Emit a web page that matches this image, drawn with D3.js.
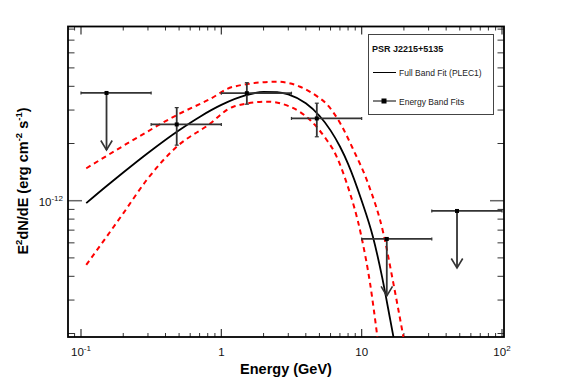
<!DOCTYPE html>
<html><head><meta charset="utf-8">
<script src="https://cdn.jsdelivr.net/npm/d3@7"></script>
<style>
html,body{margin:0;padding:0;background:#fff;}
svg{display:block;font-family:"Liberation Sans",Arial,sans-serif;}
</style></head>
<body><svg id="c" width="567" height="384"></svg>
<script>
// Energy band fits
const bandLo = [0.1, 0.316, 1, 3.16, 10, 31.6];
const bandHi = [0.316, 1, 3.16, 10, 31.6, 100];
const pointE = [0.152, 0.481, 1.52, 4.79, 15.1, 47.8];
const flux = [3.69e-12, 2.52e-12, 3.68e-12, 2.71e-12, 6.29e-13, 8.83e-13];
const fluxErrLo = [null, 1.96e-12, 3.22e-12, 2.17e-12, null, null];
const fluxErrHi = [null, 3.09e-12, 4.18e-12, 3.26e-12, null, null];
const isUL = [true, false, false, false, true, true];

// Full band fit (PLEC1)
const fitE = [0.109, 0.15, 0.2, 0.3, 0.5, 0.7, 1, 1.5, 2, 2.5, 3, 4, 5, 6, 7, 8, 10, 12, 14, 16, 17];
const fitF = [9.71e-13, 1.184e-12, 1.408e-12, 1.784e-12, 2.35e-12, 2.761e-12, 3.192e-12, 3.591e-12, 3.739e-12, 3.73e-12, 3.625e-12, 3.254e-12, 2.799e-12, 2.345e-12, 1.928e-12, 1.564e-12, 1.0e-12, 6.5e-13, 3.95e-13, 2.35e-13, 1.85e-13];

// Uncertainty band (upper / lower)
const upE = [0.109, 0.2235, 0.508, 0.808, 1.218, 2.48, 3.64, 4.79, 5.64, 6.9, 8.74, 11.1, 14.28, 16.83, 19.83];
const upF = [1.48e-12, 2.04e-12, 2.88e-12, 3.39e-12, 3.98e-12, 4.23e-12, 3.98e-12, 3.55e-12, 3.22e-12, 2.62e-12, 1.85e-12, 1.235e-12, 6.74e-13, 3.67e-13, 1.92e-13];
const loE = [0.109, 0.2, 0.294, 0.481, 0.808, 1.218, 2.107, 3.09, 4.29, 5.64, 6.28, 7.83, 10.02, 11.48, 12.94];
const loF = [4.59e-13, 8.58e-13, 1.285e-12, 1.924e-12, 2.503e-12, 3.125e-12, 3.32e-12, 3.125e-12, 2.66e-12, 2.087e-12, 1.849e-12, 1.235e-12, 6.34e-13, 3.67e-13, 1.92e-13];

// Axis tick labels
const xMajor = [0.1, 1, 10, 100];
const xMajorBase = ["10", "1", "10", "10"];
const xMajorExp = ["-1", "", "", "2"];
const yMajor = [1e-12];
const yMajorBase = ["10"];
const yMajorExp = ["-12"];

const L = 68, R = 504, T = 26.5, B = 337;
const x = d3.scaleLog().domain([Math.pow(10, -1 - 13/140.33), Math.pow(10, 2 + 2/140.33)]).range([L, R]);
const y = d3.scaleLog().domain([Math.pow(10, -12 - 136.3/190), Math.pow(10, -12 + 174.2/190)]).range([B, T]);

const svg = d3.select("#c");
svg.append("defs").append("clipPath").attr("id", "clip")
  .append("rect").attr("x", L).attr("y", T).attr("width", R - L).attr("height", B - T);

// ticks
const tickG = svg.append("g").attr("stroke", "#333");
const xMinor = [];
[0.01, 0.1, 1, 10].forEach(d => { for (let k = 2; k <= 9; k++) xMinor.push(d * k); });
const xDom = x.domain();
xMinor.filter(v => v > xDom[0] && v < xDom[1]).forEach(v => {
  const px = x(v);
  tickG.append("line").attr("x1", px).attr("x2", px).attr("y1", B).attr("y2", B - 4);
  tickG.append("line").attr("x1", px).attr("x2", px).attr("y1", T).attr("y2", T + 4);
});
xMajor.forEach(v => {
  const px = x(v);
  tickG.append("line").attr("x1", px).attr("x2", px).attr("y1", B).attr("y2", B - 8).attr("stroke-width", 1.2);
  tickG.append("line").attr("x1", px).attr("x2", px).attr("y1", T).attr("y2", T + 8).attr("stroke-width", 1.2);
});
const yMinor = [];
[1e-13, 1e-12].forEach(d => { for (let k = 2; k <= 9; k++) yMinor.push(d * k); });
const yDom = y.domain();
yMinor.filter(v => v > yDom[0] && v < yDom[1]).forEach(v => {
  const py = y(v);
  tickG.append("line").attr("x1", L).attr("x2", L + 6.5).attr("y1", py).attr("y2", py);
  tickG.append("line").attr("x1", R).attr("x2", R - 6.5).attr("y1", py).attr("y2", py);
});
yMajor.forEach(v => {
  const py = y(v);
  tickG.append("line").attr("x1", L).attr("x2", L + 14).attr("y1", py).attr("y2", py).attr("stroke", "#666").attr("stroke-width", 1.5);
  tickG.append("line").attr("x1", R).attr("x2", R - 14).attr("y1", py).attr("y2", py).attr("stroke", "#666").attr("stroke-width", 1.5);
});

// frame
svg.append("rect").attr("x", L).attr("y", T).attr("width", R - L).attr("height", B - T)
  .attr("fill", "none").attr("stroke", "#000").attr("stroke-width", 1.8);

// tick labels
xMajor.forEach((v, i) => {
  const t = svg.append("text").attr("x", x(v)).attr("y", 356).attr("text-anchor", "middle")
    .attr("font-size", 11.5).attr("fill", "#111");
  t.append("tspan").text(xMajorBase[i]);
  if (xMajorExp[i]) t.append("tspan").attr("dy", -5).attr("font-size", 8).text(xMajorExp[i]);
});
yMajor.forEach((v, i) => {
  const t = svg.append("text").attr("x", 63).attr("y", y(v) + 5).attr("text-anchor", "end")
    .attr("font-size", 11.5).attr("fill", "#111");
  t.append("tspan").text(yMajorBase[i]);
  t.append("tspan").attr("dy", -5).attr("font-size", 8).text(yMajorExp[i]);
});

// axis titles
svg.append("text").attr("x", 286).attr("y", 374).attr("text-anchor", "middle")
  .attr("font-size", 14.5).attr("font-weight", "bold").text("Energy (GeV)");
const yt = svg.append("text").attr("transform", "translate(28,181) rotate(-90)")
  .attr("text-anchor", "middle").attr("font-size", 14.5).attr("font-weight", "bold");
yt.append("tspan").text("E");
yt.append("tspan").attr("dy", -6).attr("font-size", 9.5).text("2");
yt.append("tspan").attr("dy", 6).text("dN/dE (erg cm");
yt.append("tspan").attr("dy", -6).attr("font-size", 9.5).text("-2");
yt.append("tspan").attr("dy", 6).text(" s");
yt.append("tspan").attr("dy", -6).attr("font-size", 9.5).text("-1");
yt.append("tspan").attr("dy", 6).text(")");

// curves
const plot = svg.append("g").attr("clip-path", "url(#clip)");
const line = d3.line().x(d => x(d[0])).y(d => y(d[1])).curve(d3.curveMonotoneX);
plot.append("path").attr("d", line(upE.map((e, i) => [e, upF[i]])))
  .attr("fill", "none").attr("stroke", "#ff0000").attr("stroke-width", 2).attr("stroke-dasharray", "5,4");
plot.append("path").attr("d", line(loE.map((e, i) => [e, loF[i]])))
  .attr("fill", "none").attr("stroke", "#ff0000").attr("stroke-width", 2).attr("stroke-dasharray", "5,4");
plot.append("path").attr("d", line(fitE.map((e, i) => [e, fitF[i]])))
  .attr("fill", "none").attr("stroke", "#000").attr("stroke-width", 1.8);

// band points
const pg = svg.append("g").attr("stroke", "#333").attr("stroke-width", 1.8).attr("fill", "none");
pointE.forEach((e, i) => {
  const px = x(e), py = y(flux[i]);
  const x0 = x(bandLo[i]), x1 = x(bandHi[i]);
  pg.append("line").attr("x1", x0).attr("x2", x1).attr("y1", py).attr("y2", py);
  pg.append("line").attr("x1", x0).attr("x2", x0).attr("y1", py - 1.5).attr("y2", py + 1.5).attr("stroke-width", 1.2);
  pg.append("line").attr("x1", x1).attr("x2", x1).attr("y1", py - 1.5).attr("y2", py + 1.5).attr("stroke-width", 1.2);
  if (isUL[i]) {
    const tip = py + 57;
    pg.append("line").attr("x1", px).attr("x2", px).attr("y1", py).attr("y2", tip);
    pg.append("path").attr("d", `M${px - 5.7},${tip - 9.5}L${px},${tip}L${px + 5.7},${tip - 9.5}`).attr("stroke-width", 1.6);
  } else {
    const yl = y(fluxErrLo[i]), yh = y(fluxErrHi[i]);
    pg.append("line").attr("x1", px).attr("x2", px).attr("y1", yh).attr("y2", yl);
    pg.append("line").attr("x1", px - 2).attr("x2", px + 2).attr("y1", yh).attr("y2", yh).attr("stroke-width", 1.2);
    pg.append("line").attr("x1", px - 2).attr("x2", px + 2).attr("y1", yl).attr("y2", yl).attr("stroke-width", 1.2);
  }
  svg.append("rect").attr("x", px - 2).attr("y", py - 2).attr("width", 4).attr("height", 4).attr("fill", "#000");
});

// legend
const lg = svg.append("g");
lg.append("rect").attr("x", 368.5).attr("y", 34.5).attr("width", 125).attr("height", 80)
  .attr("fill", "#fff").attr("stroke", "#444").attr("stroke-width", 1);
lg.append("text").attr("x", 372).attr("y", 52).attr("font-size", 9).attr("font-weight", "bold").attr("fill", "#111").text("PSR J2215+5135");
lg.append("line").attr("x1", 373).attr("x2", 396).attr("y1", 72.5).attr("y2", 72.5).attr("stroke", "#000").attr("stroke-width", 1);
lg.append("text").attr("x", 399).attr("y", 76).attr("font-size", 8.5).attr("fill", "#222").text("Full Band Fit (PLEC1)");
lg.append("line").attr("x1", 373).attr("x2", 396).attr("y1", 101).attr("y2", 101).attr("stroke", "#000").attr("stroke-width", 1);
lg.append("rect").attr("x", 381.5).attr("y", 98.5).attr("width", 5).attr("height", 5).attr("fill", "#000");
lg.append("text").attr("x", 399).attr("y", 104.5).attr("font-size", 8.5).attr("fill", "#222").text("Energy Band Fits");
</script></body></html>
